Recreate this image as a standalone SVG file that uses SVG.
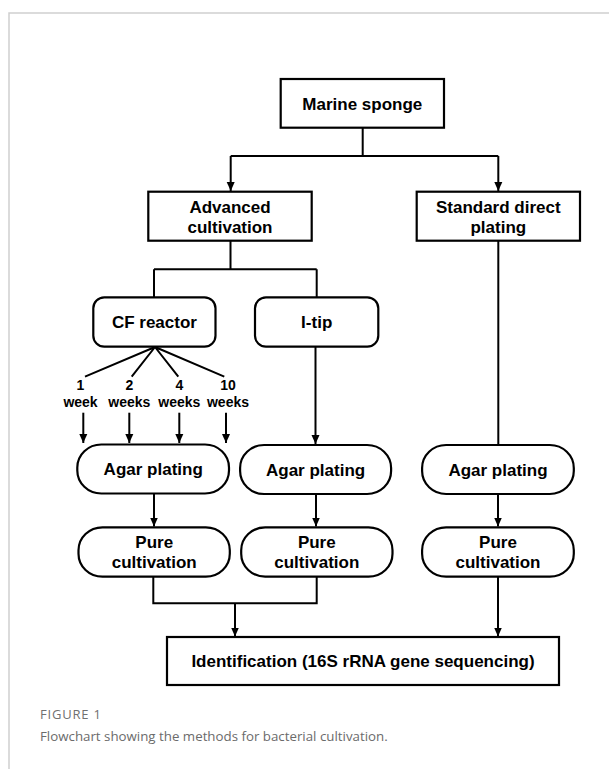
<svg xmlns="http://www.w3.org/2000/svg" width="609" height="769" viewBox="0 0 609 769">
<defs>
<style>
.box{fill:#fff;stroke:#000;stroke-width:2.2}
.ln{fill:none;stroke:#000;stroke-width:2}
.t{font-family:"Liberation Sans",Arial,sans-serif;font-weight:bold;font-size:17px;fill:#000;text-anchor:middle}
.s{font-family:"Liberation Sans",Arial,sans-serif;font-weight:bold;font-size:14px;fill:#000;text-anchor:middle}
.cap1{font-family:"Open Sans","Noto Sans",sans-serif;font-size:13px;letter-spacing:0.8px;fill:#707070}
.cap2{font-family:"Open Sans","Noto Sans",sans-serif;font-size:13.3px;fill:#6b6b6b}
</style>
<marker id="ah" markerWidth="10" markerHeight="10" refX="9" refY="5" orient="auto" markerUnits="userSpaceOnUse">
<path d="M0,1 L9,5 L0,9 Z" fill="#000"/>
</marker>
</defs>
<rect width="609" height="769" fill="#fff"/>
<path d="M9,769 V13 H609" fill="none" stroke="#cfcfcf" stroke-width="1.5"/>

<g id="connectors">
<path class="ln" d="M362.7,128 V156 M230.7,156 H498.3" />
<path class="ln" d="M230.7,156 V191" marker-end="url(#ah)"/>
<path class="ln" d="M498.3,156 V191" marker-end="url(#ah)"/>
<path class="ln" d="M230.5,241 V269.3 M154,269.3 H316.7 M154,269.3 V297.3 M316.7,269.3 V297.3"/>
<path class="ln" d="M155,347 L85,376.7 M155,347 L131.7,376.7 M155,347 L178.3,376.7 M155,347 L224.3,376.7"/>
<path class="ln" d="M83.3,412.7 V443" marker-end="url(#ah)"/>
<path class="ln" d="M129.3,412.7 V443" marker-end="url(#ah)"/>
<path class="ln" d="M179.3,412.7 V443" marker-end="url(#ah)"/>
<path class="ln" d="M226,412.7 V443" marker-end="url(#ah)"/>
<path class="ln" d="M315.5,347 V444" marker-end="url(#ah)"/>
<path class="ln" d="M498.3,241 V445"/>
<path class="ln" d="M154,494 V526.5" marker-end="url(#ah)"/>
<path class="ln" d="M316,494 V526.5" marker-end="url(#ah)"/>
<path class="ln" d="M498,494 V526.5" marker-end="url(#ah)"/>
<path class="ln" d="M153.3,577 V603.3 H316.7 V577"/>
<path class="ln" d="M235,603.3 V636.5" marker-end="url(#ah)"/>
<path class="ln" d="M498,577 V636.5" marker-end="url(#ah)"/>
</g>

<g id="marine-sponge">
<rect class="box" x="280.7" y="79" width="163.3" height="48.7"/>
<text class="t" x="362.3" y="109.8">Marine sponge</text>
</g>
<g id="advanced-cultivation">
<rect class="box" x="148.3" y="191.7" width="163.4" height="49"/>
<text class="t" x="230" y="212.7">Advanced</text>
<text class="t" x="230" y="232.7">cultivation</text>
</g>
<g id="standard-direct-plating">
<rect class="box" x="416.7" y="191.7" width="163.3" height="49"/>
<text class="t" x="498.3" y="212.7">Standard direct</text>
<text class="t" x="498.3" y="232.7">plating</text>
</g>
<g id="cf-reactor">
<rect class="box" x="93.3" y="297.3" width="122.2" height="49.4" rx="11" ry="11"/>
<text class="t" x="154.4" y="328">CF reactor</text>
</g>
<g id="i-tip">
<rect class="box" x="255" y="297.3" width="123.3" height="49.4" rx="11" ry="11"/>
<text class="t" x="316.7" y="328">I-tip</text>
</g>
<g id="time-labels">
<text class="s" x="80.5" y="390">1</text>
<text class="s" x="80.5" y="406.7">week</text>
<text class="s" x="129.3" y="390">2</text>
<text class="s" x="129.3" y="406.7">weeks</text>
<text class="s" x="179.3" y="390">4</text>
<text class="s" x="179.3" y="406.7">weeks</text>
<text class="s" x="228" y="390">10</text>
<text class="s" x="228" y="406.7">weeks</text>
</g>
<g id="agar-plating-1">
<rect class="box" x="77.3" y="444.5" width="151.7" height="49" rx="24" ry="23"/>
<text class="t" x="153.2" y="475">Agar plating</text>
</g>
<g id="agar-plating-2">
<rect class="box" x="240.1" y="445" width="151" height="49" rx="24" ry="23"/>
<text class="t" x="315.6" y="475.5">Agar plating</text>
</g>
<g id="agar-plating-3">
<rect class="box" x="422.1" y="445" width="151.7" height="49" rx="24" ry="23"/>
<text class="t" x="498" y="475.5">Agar plating</text>
</g>
<g id="pure-cultivation-1">
<rect class="box" x="78.5" y="527.3" width="151.3" height="49.4" rx="24" ry="23"/>
<text class="t" x="154.2" y="548.3">Pure</text>
<text class="t" x="154.2" y="568.3">cultivation</text>
</g>
<g id="pure-cultivation-2">
<rect class="box" x="241.2" y="527.3" width="151.3" height="49.4" rx="24" ry="23"/>
<text class="t" x="316.8" y="548.3">Pure</text>
<text class="t" x="316.8" y="568.3">cultivation</text>
</g>
<g id="pure-cultivation-3">
<rect class="box" x="422.1" y="527.3" width="151.7" height="49.4" rx="24" ry="23"/>
<text class="t" x="498" y="548.3">Pure</text>
<text class="t" x="498" y="568.3">cultivation</text>
</g>
<g id="identification">
<rect class="box" x="167" y="637" width="392" height="48"/>
<text class="t" x="363" y="667">Identification (16S rRNA gene sequencing)</text>
</g>
<g id="caption">
<text class="cap1" x="40" y="719">FIGURE 1</text>
<text class="cap2" x="40" y="741">Flowchart showing the methods for bacterial cultivation.</text>
</g>
</svg>
